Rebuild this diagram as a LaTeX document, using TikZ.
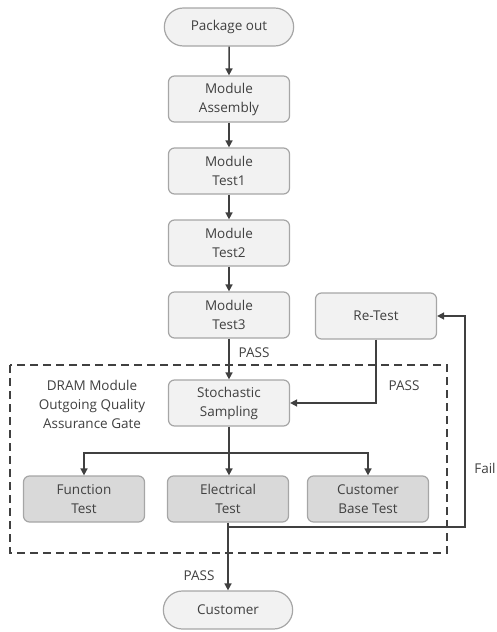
\documentclass[tikz,border=0pt]{standalone}
\usepackage{fontspec}
\setmainfont{Open Sans}
\usetikzlibrary{arrows.meta,shapes.misc}
\definecolor{boxfill}{HTML}{F2F2F2}
\definecolor{boxdark}{HTML}{D9D9D9}
\definecolor{boxline}{HTML}{A6A6A6}
\definecolor{arrline}{HTML}{404040}
\definecolor{txt}{HTML}{404040}
\begin{document}
\begin{tikzpicture}[x=1pt,y=-1pt,
  every node/.style={font=\fontsize{13.5}{19}\selectfont, text=txt},
  procbox/.style={draw=boxline, line width=1.2pt, fill=boxfill, rounded corners=6pt,
    minimum width=121pt, minimum height=46pt, align=center, inner sep=2pt},
  testbox/.style={procbox, fill=boxdark},
  term/.style={draw=boxline, line width=1.2pt, fill=boxfill, rounded rectangle,
    minimum width=136pt, minimum height=38pt, align=center},
  arr/.style={draw=arrline, line width=1.5pt, -{Triangle[length=7pt,width=7pt]}},
  conn/.style={draw=arrline, line width=1.5pt},
  lbl/.style={inner sep=0pt}
]
\useasboundingbox (0,0) rectangle (497,632);
% dashed gate
\draw[arrline, line width=1.5pt, dash pattern=on 8pt off 5pt] (10,365) rectangle (447,553);

\node[term] (pkg) at (229,27) {Package out};
\node[procbox] (asm) at (229,99) {Module\\Assembly};
\node[procbox] (t1) at (229,171) {Module\\Test1};
\node[procbox] (t2) at (229,243) {Module\\Test2};
\node[procbox] (t3) at (229,315) {Module\\Test3};
\node[procbox] (rt) at (376,316) {Re-Test};
\node[procbox] (ss) at (229,403) {Stochastic\\Sampling};
\node[testbox] (ft) at (84,499) {Function\\Test};
\node[testbox] (et) at (228,499) {Electrical\\Test};
\node[testbox] (cb) at (368,499) {Customer\\Base Test};
\node[term] (cu) at (228,610) {Customer};

\node[lbl, align=center] (gate) at (92,404) {DRAM Module\\Outgoing Quality\\Assurance Gate};
\node[lbl] (p1) at (254,353) {PASS};
\node[lbl] (p2) at (404,386) {PASS};
\node[lbl] (p3) at (199,576) {PASS};
\node[lbl] (fail) at (485,468) {Fail};

\draw[arr] (pkg) -- (asm);
\draw[arr] (asm) -- (t1);
\draw[arr] (t1) -- (t2);
\draw[arr] (t2) -- (t3);
\draw[arr] (t3) -- (ss);
\draw[arr] (rt.south) |- (ss.east);
\coordinate (br) at (229,453);
\draw[arr] (ss.south) -- (et.north -| ss.south);
\draw[arr] (br) -| (ft.north);
\draw[arr] (br) -| (cb.north);
\draw[arr] (et.south) -- (cu.north);
\coordinate (fb) at (228,527);
\coordinate (fr) at (465,527);
\draw[arr] (fb) -- (fr) |- (rt.east);
\end{tikzpicture}
\end{document}
